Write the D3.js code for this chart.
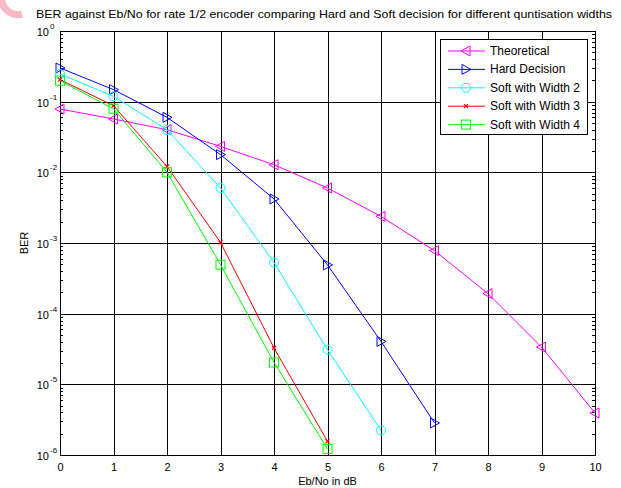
<!DOCTYPE html>
<html><head><meta charset="utf-8">
<script src="https://cdn.jsdelivr.net/npm/d3@7"></script>
<style>body{margin:0;background:#fff}svg{display:block}text{font-family:"Liberation Sans",Arial,sans-serif;fill:#000}</style>
</head><body>
<svg id="c" width="621" height="488"></svg>
<script>
const ebno = [0,1,2,3,4,5,6,7,8,9,10];
const theoretical = [0.0787,0.0569,0.0401,0.0233,0.0128,0.0060,0.00238,0.00078,0.000192,3.37e-5,3.93e-6];
const hardDecision = [0.30,0.148,0.060,0.0178,0.0042,4.9e-4,4.05e-5,2.84e-6];
const softWidth2 = [0.246,0.119,0.040,0.006,5.3e-4,3.09e-5,2.23e-6];
const softWidth3 = [0.205,0.0877,0.0121,1.02e-3,3.27e-5,1.56e-6];
const softWidth4 = [0.198,0.0795,0.010,4.93e-4,2.04e-5,1.22e-6];
const xTicks = [0,1,2,3,4,5,6,7,8,9,10];
const yExponents = [0,-1,-2,-3,-4,-5,-6];
const seriesNames = ["Theoretical","Hard Decision","Soft with Width 2","Soft with Width 3","Soft with Width 4"];
const titleText = "BER against Eb/No for rate 1/2 encoder comparing Hard and Soft decision for different quntisation widths";

const svg = d3.select("#c");
const L=60,R=595,T=31,B=455;
const x = d3.scaleLinear().domain([0,10]).range([L,R]);
const y = d3.scaleLog().domain([1e-6,1]).range([B,T]);

// watermark blob
svg.append("path").attr("d","M2,-4 A16,16 0 0 0 22,14").attr("fill","none").attr("stroke","#f9b8c4").attr("stroke-width",7);

svg.append("rect").attr("x",L).attr("y",T).attr("width",R-L).attr("height",B-T).attr("fill","#fff");

const g = svg.append("g").attr("shape-rendering","crispEdges");
// grid
xTicks.forEach(t=>{ g.append("line").attr("x1",Math.round(x(t))+0.5).attr("x2",Math.round(x(t))+0.5).attr("y1",T).attr("y2",B).attr("stroke","#000").attr("stroke-width",1); });
yExponents.forEach(e=>{ const yy=Math.round(y(Math.pow(10,e)))+0.5; g.append("line").attr("x1",L).attr("x2",R).attr("y1",yy).attr("y2",yy).attr("stroke","#000").attr("stroke-width",1); });
// minor ticks
yExponents.slice(1).forEach(e=>{ for(let m=2;m<=9;m++){ const yy=Math.round(y(m*Math.pow(10,e)))+0.5;
  g.append("line").attr("x1",L).attr("x2",L+3).attr("y1",yy).attr("y2",yy).attr("stroke","#000");
  g.append("line").attr("x1",R-3).attr("x2",R).attr("y1",yy).attr("y2",yy).attr("stroke","#000"); }});
// frame
g.append("rect").attr("x",L+0.5).attr("y",T+0.5).attr("width",R-L).attr("height",B-T).attr("fill","none").attr("stroke","#000");

// x tick labels via d3 axis
const xAxis = svg.append("g").attr("transform",`translate(0,${B})`).call(d3.axisBottom(x).tickValues(xTicks).tickSize(0).tickPadding(0).tickFormat(d3.format("d")));
xAxis.select(".domain").remove();
xAxis.selectAll("text").attr("font-size",11).attr("dy",null).attr("y",16).attr("font-family","Liberation Sans, Arial, sans-serif");

const yl = svg.append("g");
yExponents.forEach(e=>{
  const yy=y(Math.pow(10,e));
  yl.append("text").attr("x",49).attr("y",yy+5).attr("text-anchor","end").attr("font-size",11).text("10");
  yl.append("text").attr("x",50).attr("y",yy-2).attr("font-size",8).text(String(e));
});

svg.append("text").attr("x",(L+R)/2).attr("y",485).attr("text-anchor","middle").attr("font-size",11).text("Eb/No in dB");
svg.append("text").attr("transform",`translate(28,${(T+B)/2}) rotate(-90)`).attr("text-anchor","middle").attr("font-size",11).text("BER");
svg.append("text").attr("x",324).attr("y",18).attr("text-anchor","middle").attr("font-size",11).attr("textLength",576).attr("lengthAdjust","spacingAndGlyphs").text(titleText);

const colors=["#ff00ff","#0000ff","#00ffff","#ff0000","#00ff00"];
const data=[theoretical,hardDecision,softWidth2,softWidth3,softWidth4];
const line=d3.line().x((d,i)=>x(ebno[i])).y(d=>y(d));

function marker(sel,type,cx,cy,col){
  if(type===0) sel.append("path").attr("d",`M${cx-5},${cy} L${cx+4},${cy-5} L${cx+4},${cy+5} Z`).attr("fill","none").attr("stroke",col);
  else if(type===1) sel.append("path").attr("d",`M${cx+5},${cy} L${cx-4},${cy-5} L${cx-4},${cy+5} Z`).attr("fill","none").attr("stroke",col);
  else if(type===2) sel.append("circle").attr("cx",cx).attr("cy",cy).attr("r",4.5).attr("fill","none").attr("stroke",col);
  else if(type===3) sel.append("path").attr("d",`M${cx-2},${cy-2} L${cx+2},${cy+2} M${cx-2},${cy+2} L${cx+2},${cy-2}`).attr("stroke",col).attr("stroke-width",1.2);
  else sel.append("rect").attr("x",cx-4.5).attr("y",cy-4.5).attr("width",9).attr("height",9).attr("fill","none").attr("stroke",col);
}
const plot=svg.append("g");
data.forEach((s,k)=>{
  plot.append("path").datum(s).attr("d",line).attr("fill","none").attr("stroke",colors[k]).attr("stroke-width",1);
  s.forEach((v,i)=>marker(plot,k,x(ebno[i]),y(v),colors[k]));
});

// legend
const lg=svg.append("g");
lg.append("rect").attr("x",440.5).attr("y",39.5).attr("width",147).attr("height",95).attr("fill","#fff").attr("stroke","#000");
seriesNames.forEach((n,k)=>{
  const yy=51+k*18.4;
  lg.append("line").attr("x1",448).attr("x2",485).attr("y1",yy).attr("y2",yy).attr("stroke",colors[k]);
  marker(lg,k,466,yy,colors[k]);
  lg.append("text").attr("x",490).attr("y",yy+4).attr("font-size",12).text(n);
});
</script>
</body></html>
